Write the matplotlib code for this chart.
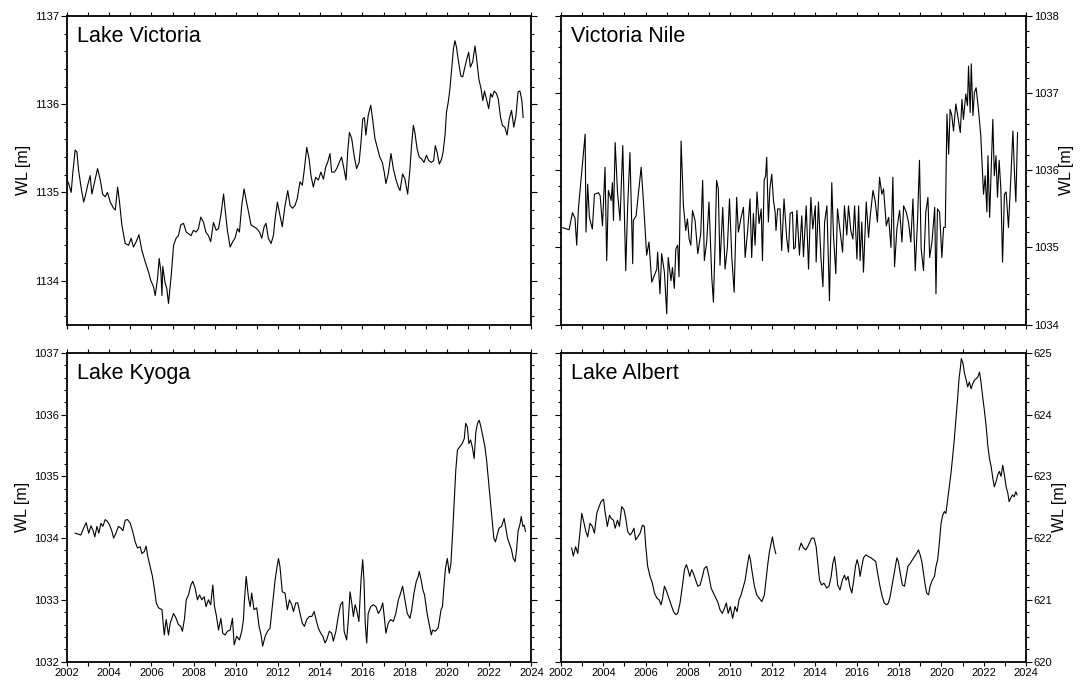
import numpy as np
import matplotlib
matplotlib.use("Agg")
import matplotlib.pyplot as plt
from matplotlib.ticker import MultipleLocator

plt.rcParams['font.family'] = ['Liberation Sans', 'DejaVu Sans']

# Lake Victoria water level (year, m)
vic_year = [2002.00, 2002.08, 2002.20, 2002.28, 2002.39, 2002.47, 2002.55, 2002.68, 2002.79, 2002.87,
            2002.98, 2003.10, 2003.18, 2003.31, 2003.45, 2003.58, 2003.69, 2003.81, 2003.92, 2004.05,
            2004.21, 2004.29, 2004.40, 2004.49, 2004.60, 2004.76, 2004.92, 2005.04, 2005.15, 2005.28,
            2005.41, 2005.55, 2005.71, 2005.86, 2005.97, 2006.10, 2006.18, 2006.29, 2006.37, 2006.45,
            2006.50, 2006.54, 2006.65, 2006.73, 2006.81, 2006.94, 2007.05, 2007.17, 2007.28, 2007.39,
            2007.52, 2007.65, 2007.76, 2007.88, 2007.99, 2008.12, 2008.23, 2008.34, 2008.47, 2008.58,
            2008.70, 2008.81, 2008.94, 2009.07, 2009.18, 2009.29, 2009.42, 2009.49, 2009.60, 2009.73,
            2009.85, 2009.96, 2010.08, 2010.17, 2010.28, 2010.39, 2010.49, 2010.60, 2010.72, 2010.86,
            2010.99, 2011.12, 2011.23, 2011.34, 2011.43, 2011.54, 2011.67, 2011.78, 2011.86, 2011.97,
            2012.09, 2012.20, 2012.33, 2012.46, 2012.57, 2012.69, 2012.80, 2012.91, 2013.04, 2013.15,
            2013.25, 2013.36, 2013.47, 2013.56, 2013.67, 2013.78, 2013.91, 2014.03, 2014.15, 2014.26,
            2014.35, 2014.46, 2014.54, 2014.67, 2014.78, 2014.90, 2015.01, 2015.12, 2015.22, 2015.30,
            2015.38, 2015.49, 2015.60, 2015.72, 2015.84, 2015.93, 2016.01, 2016.09, 2016.16, 2016.27,
            2016.39, 2016.48, 2016.59, 2016.70, 2016.82, 2016.94, 2017.03, 2017.11, 2017.22, 2017.35,
            2017.46, 2017.58, 2017.70, 2017.78, 2017.90, 2018.01, 2018.14, 2018.25, 2018.33, 2018.41,
            2018.48, 2018.59, 2018.69, 2018.80, 2018.91, 2019.03, 2019.14, 2019.26, 2019.37, 2019.45,
            2019.53, 2019.64, 2019.75, 2019.82, 2019.91, 2019.98, 2020.06, 2020.14, 2020.23, 2020.31,
            2020.38, 2020.45, 2020.55, 2020.66, 2020.75, 2020.83, 2020.94, 2021.03, 2021.11, 2021.22,
            2021.33, 2021.41, 2021.51, 2021.62, 2021.70, 2021.78, 2021.87, 2021.98, 2022.07, 2022.15,
            2022.24, 2022.35, 2022.43, 2022.54, 2022.63, 2022.74, 2022.85, 2022.95, 2023.06, 2023.17,
            2023.27, 2023.37, 2023.46, 2023.55, 2023.61]
vic_wl = [1135.14, 1135.10, 1135.00, 1135.23, 1135.48, 1135.46, 1135.25, 1135.04, 1134.89, 1134.96,
          1135.08, 1135.19, 1134.98, 1135.12, 1135.27, 1135.14, 1134.98, 1134.95, 1135.00, 1134.89,
          1134.82, 1134.80, 1135.06, 1134.89, 1134.63, 1134.42, 1134.40, 1134.48, 1134.38, 1134.44,
          1134.52, 1134.34, 1134.21, 1134.10, 1134.00, 1133.93, 1133.83, 1134.02, 1134.25, 1134.10,
          1133.83, 1134.16, 1133.97, 1133.91, 1133.74, 1134.06, 1134.40, 1134.48, 1134.51, 1134.63,
          1134.65, 1134.55, 1134.53, 1134.51, 1134.57, 1134.55, 1134.59, 1134.72, 1134.66, 1134.55,
          1134.51, 1134.44, 1134.66, 1134.57, 1134.59, 1134.74, 1134.98, 1134.81, 1134.57, 1134.38,
          1134.44, 1134.48, 1134.59, 1134.55, 1134.85, 1135.04, 1134.91, 1134.78, 1134.63, 1134.61,
          1134.59, 1134.55, 1134.48, 1134.61, 1134.65, 1134.48, 1134.42, 1134.51, 1134.70, 1134.89,
          1134.74, 1134.61, 1134.85, 1135.02, 1134.85, 1134.82, 1134.85, 1134.93, 1135.12, 1135.08,
          1135.27, 1135.51, 1135.38, 1135.19, 1135.06, 1135.17, 1135.14, 1135.23, 1135.15, 1135.29,
          1135.34, 1135.44, 1135.23, 1135.23, 1135.27, 1135.34, 1135.40, 1135.27, 1135.14, 1135.46,
          1135.68, 1135.61, 1135.42, 1135.27, 1135.34, 1135.57, 1135.83, 1135.85, 1135.65, 1135.87,
          1135.99, 1135.83, 1135.61, 1135.51, 1135.40, 1135.34, 1135.23, 1135.10, 1135.21, 1135.44,
          1135.27, 1135.15, 1135.06, 1135.02, 1135.21, 1135.15, 1134.98, 1135.27, 1135.55, 1135.76,
          1135.68, 1135.49, 1135.40, 1135.38, 1135.34, 1135.42, 1135.36, 1135.34, 1135.36, 1135.53,
          1135.46, 1135.32, 1135.38, 1135.46, 1135.65, 1135.91, 1136.02, 1136.17, 1136.42, 1136.63,
          1136.72, 1136.65, 1136.48, 1136.32, 1136.31, 1136.40, 1136.51, 1136.59, 1136.42, 1136.48,
          1136.66, 1136.51, 1136.29, 1136.17, 1136.04, 1136.15, 1136.06, 1135.95, 1136.12, 1136.08,
          1136.15, 1136.12, 1136.06, 1135.85, 1135.76, 1135.74, 1135.65, 1135.83, 1135.93, 1135.74,
          1135.87, 1136.14, 1136.15, 1136.04, 1135.85]

# Victoria Nile water level
nile_year = [2002.03, 2002.38, 2002.54, 2002.66, 2002.74, 2002.82, 2003.14, 2003.18, 2003.26, 2003.34,
             2003.48, 2003.58, 2003.77, 2003.85, 2003.96, 2004.08, 2004.16, 2004.24, 2004.37, 2004.43,
             2004.48, 2004.56, 2004.67, 2004.79, 2004.92, 2005.06, 2005.15, 2005.26, 2005.39, 2005.42,
             2005.55, 2005.79, 2005.90, 2006.05, 2006.16, 2006.29, 2006.53, 2006.57, 2006.68, 2006.76,
             2006.89, 2007.00, 2007.07, 2007.20, 2007.27, 2007.36, 2007.43, 2007.52, 2007.58, 2007.68,
             2007.79, 2007.90, 2007.98, 2008.06, 2008.14, 2008.22, 2008.34, 2008.47, 2008.61, 2008.70,
             2008.78, 2008.89, 2009.00, 2009.13, 2009.21, 2009.29, 2009.36, 2009.44, 2009.52, 2009.65,
             2009.76, 2009.87, 2009.97, 2010.08, 2010.19, 2010.31, 2010.39, 2010.52, 2010.63, 2010.71,
             2010.83, 2010.94, 2011.02, 2011.10, 2011.18, 2011.27, 2011.37, 2011.47, 2011.53, 2011.61,
             2011.68, 2011.73, 2011.81, 2011.88, 2011.97, 2012.05, 2012.13, 2012.17, 2012.25, 2012.36,
             2012.44, 2012.55, 2012.68, 2012.76, 2012.84, 2012.95, 2013.01, 2013.08, 2013.16, 2013.28,
             2013.39, 2013.47, 2013.60, 2013.71, 2013.82, 2013.91, 2014.03, 2014.07, 2014.18, 2014.29,
             2014.39, 2014.47, 2014.58, 2014.70, 2014.81, 2014.89, 2015.00, 2015.08, 2015.21, 2015.32,
             2015.41, 2015.52, 2015.60, 2015.71, 2015.81, 2015.89, 2016.00, 2016.08, 2016.15, 2016.23,
             2016.31, 2016.44, 2016.55, 2016.63, 2016.76, 2016.87, 2016.97, 2017.07, 2017.18, 2017.26,
             2017.39, 2017.50, 2017.61, 2017.70, 2017.78, 2017.89, 2018.02, 2018.13, 2018.21, 2018.33,
             2018.44, 2018.55, 2018.65, 2018.76, 2018.87, 2018.96, 2019.04, 2019.15, 2019.26, 2019.36,
             2019.44, 2019.55, 2019.68, 2019.74, 2019.81, 2019.91, 2020.02, 2020.10, 2020.18, 2020.26,
             2020.34, 2020.41, 2020.49, 2020.57, 2020.68, 2020.78, 2020.89, 2020.97, 2021.04, 2021.15,
             2021.23, 2021.28, 2021.36, 2021.41, 2021.49, 2021.56, 2021.64, 2021.75, 2021.86, 2021.99,
             2022.07, 2022.15, 2022.20, 2022.28, 2022.36, 2022.43, 2022.50, 2022.58, 2022.65, 2022.73,
             2022.81, 2022.89, 2022.98, 2023.06, 2023.17, 2023.28, 2023.38, 2023.46, 2023.52, 2023.60]
nile_wl = [1035.26, 1035.23, 1035.45, 1035.38, 1035.03, 1035.50, 1036.47, 1035.20, 1035.82, 1035.39,
           1035.24, 1035.69, 1035.71, 1035.67, 1035.28, 1036.04, 1034.83, 1035.74, 1035.61, 1035.84,
           1035.35, 1036.36, 1035.72, 1035.35, 1036.32, 1034.70, 1035.52, 1036.23, 1034.79, 1035.35,
           1035.41, 1036.04, 1035.59, 1034.90, 1035.07, 1034.55, 1034.72, 1034.94, 1034.40, 1034.92,
           1034.68, 1034.14, 1034.87, 1034.57, 1034.74, 1034.47, 1034.98, 1035.03, 1034.62, 1036.38,
           1035.54, 1035.22, 1035.37, 1035.11, 1035.03, 1035.48, 1035.35, 1034.92, 1035.18, 1035.87,
           1034.83, 1035.07, 1035.59, 1034.62, 1034.29, 1035.07, 1035.87, 1035.76, 1034.77, 1035.52,
           1034.72, 1035.00, 1035.63, 1034.87, 1034.42, 1035.65, 1035.20, 1035.39, 1035.52, 1034.87,
           1035.22, 1035.63, 1034.87, 1035.44, 1035.03, 1035.72, 1035.31, 1035.50, 1034.83, 1035.87,
           1035.93, 1036.17, 1035.33, 1035.76, 1035.95, 1035.61, 1035.46, 1035.22, 1035.50, 1035.50,
           1034.96, 1035.63, 1035.11, 1034.94, 1035.44, 1035.46, 1034.98, 1035.00, 1035.48, 1034.90,
           1035.41, 1034.88, 1035.54, 1034.72, 1035.65, 1035.24, 1035.54, 1034.81, 1035.59, 1034.90,
           1034.49, 1035.33, 1035.54, 1034.31, 1035.84, 1035.16, 1034.66, 1035.50, 1035.20, 1034.94,
           1035.54, 1035.16, 1035.54, 1035.22, 1035.11, 1035.54, 1034.85, 1035.54, 1034.83, 1035.33,
           1034.68, 1035.59, 1035.13, 1035.41, 1035.74, 1035.59, 1035.33, 1035.91, 1035.69, 1035.76,
           1035.28, 1035.39, 1035.00, 1035.91, 1034.75, 1035.24, 1035.48, 1035.07, 1035.54, 1035.46,
           1035.33, 1035.07, 1035.63, 1034.70, 1035.37, 1036.13, 1034.98, 1034.70, 1035.46, 1035.65,
           1034.87, 1035.07, 1035.52, 1034.40, 1035.50, 1035.46, 1034.87, 1035.26, 1035.26, 1036.73,
           1036.21, 1036.79, 1036.71, 1036.51, 1036.86, 1036.69, 1036.49, 1036.92, 1036.66, 1036.99,
           1036.84, 1037.35, 1036.75, 1037.38, 1036.71, 1037.01, 1037.07, 1036.79, 1036.45, 1035.69,
           1035.93, 1035.46, 1036.19, 1035.39, 1036.08, 1036.66, 1035.93, 1036.19, 1035.65, 1036.13,
           1035.76, 1034.81, 1035.69, 1035.72, 1035.26, 1035.89, 1036.51, 1035.93, 1035.59, 1036.49]

# Lake Kyoga water level
kyo_year = [2002.39, 2002.66, 2002.79, 2002.91, 2003.03, 2003.14, 2003.23, 2003.32, 2003.42, 2003.51,
            2003.61, 2003.70, 2003.81, 2003.92, 2004.02, 2004.13, 2004.21, 2004.32, 2004.44, 2004.56,
            2004.65, 2004.76, 2004.87, 2005.00, 2005.11, 2005.23, 2005.34, 2005.47, 2005.55, 2005.66,
            2005.75, 2005.83, 2005.94, 2006.05, 2006.15, 2006.23, 2006.34, 2006.50, 2006.61, 2006.70,
            2006.81, 2006.89, 2007.05, 2007.17, 2007.28, 2007.39, 2007.47, 2007.57, 2007.65, 2007.76,
            2007.87, 2007.96, 2008.07, 2008.18, 2008.28, 2008.39, 2008.50, 2008.59, 2008.70, 2008.81,
            2008.91, 2008.99, 2009.07, 2009.18, 2009.29, 2009.38, 2009.49, 2009.60, 2009.73, 2009.84,
            2009.92, 2010.04, 2010.17, 2010.28, 2010.36, 2010.41, 2010.49, 2010.60, 2010.68, 2010.75,
            2010.86, 2010.99, 2011.10, 2011.18, 2011.27, 2011.39, 2011.50, 2011.62, 2011.73, 2011.86,
            2011.94, 2012.02, 2012.09, 2012.20, 2012.33, 2012.44, 2012.54, 2012.65, 2012.73, 2012.84,
            2012.93, 2013.04, 2013.15, 2013.25, 2013.36, 2013.48, 2013.60, 2013.71, 2013.80, 2013.91,
            2014.02, 2014.12, 2014.23, 2014.30, 2014.43, 2014.54, 2014.62, 2014.74, 2014.85, 2014.96,
            2015.06, 2015.13, 2015.25, 2015.33, 2015.41, 2015.49, 2015.57, 2015.65, 2015.72, 2015.83,
            2015.93, 2016.01, 2016.07, 2016.13, 2016.20, 2016.27, 2016.39, 2016.51, 2016.64, 2016.75,
            2016.86, 2016.96, 2017.04, 2017.11, 2017.22, 2017.33, 2017.46, 2017.58, 2017.70, 2017.78,
            2017.90, 2018.01, 2018.12, 2018.25, 2018.33, 2018.44, 2018.55, 2018.64, 2018.69, 2018.78,
            2018.86, 2018.94, 2019.06, 2019.15, 2019.26, 2019.32, 2019.44, 2019.58, 2019.65, 2019.72,
            2019.79, 2019.86, 2019.93, 2020.02, 2020.11, 2020.19, 2020.27, 2020.34, 2020.42, 2020.50,
            2020.61, 2020.72, 2020.82, 2020.89, 2020.97, 2021.04, 2021.12, 2021.20, 2021.29, 2021.37,
            2021.45, 2021.53, 2021.61, 2021.69, 2021.80, 2021.88, 2021.98, 2022.07, 2022.15, 2022.22,
            2022.30, 2022.38, 2022.47, 2022.59, 2022.71, 2022.79, 2022.87, 2022.98, 2023.06, 2023.14,
            2023.23, 2023.30, 2023.37, 2023.47, 2023.52, 2023.60, 2023.66, 2023.72]
kyo_wl = [1034.08, 1034.05, 1034.16, 1034.25, 1034.08, 1034.20, 1034.13, 1034.02, 1034.19, 1034.08,
          1034.24, 1034.19, 1034.30, 1034.27, 1034.21, 1034.11, 1034.00, 1034.08, 1034.19, 1034.16,
          1034.12, 1034.29, 1034.30, 1034.24, 1034.11, 1033.94, 1033.84, 1033.86, 1033.75, 1033.78,
          1033.87, 1033.70, 1033.54, 1033.38, 1033.16, 1032.95, 1032.87, 1032.84, 1032.43, 1032.68,
          1032.43, 1032.62, 1032.78, 1032.70, 1032.60, 1032.57, 1032.49, 1032.70, 1033.00, 1033.08,
          1033.24, 1033.30, 1033.19, 1033.00, 1033.08, 1033.00, 1033.05, 1032.89, 1033.00, 1032.92,
          1033.24, 1032.89, 1032.76, 1032.51, 1032.70, 1032.46, 1032.43, 1032.49, 1032.51, 1032.70,
          1032.27, 1032.41, 1032.35, 1032.49, 1032.68, 1033.00, 1033.38, 1033.03, 1032.89, 1033.11,
          1032.84, 1032.87, 1032.57, 1032.46, 1032.25, 1032.41, 1032.49, 1032.54, 1032.89, 1033.32,
          1033.51, 1033.67, 1033.54, 1033.13, 1033.11, 1032.84, 1033.00, 1032.92, 1032.81, 1032.95,
          1032.95, 1032.78, 1032.62, 1032.57, 1032.68, 1032.73, 1032.73, 1032.81, 1032.68, 1032.54,
          1032.46, 1032.41, 1032.30, 1032.35, 1032.49, 1032.46, 1032.33, 1032.49, 1032.73, 1032.92,
          1032.97, 1032.49, 1032.35, 1032.68, 1033.13, 1032.95, 1032.73, 1032.92, 1032.84, 1032.65,
          1033.32, 1033.65, 1033.32, 1032.62, 1032.30, 1032.78, 1032.89, 1032.92, 1032.89, 1032.78,
          1032.84, 1032.95, 1032.70, 1032.46, 1032.62, 1032.68, 1032.65, 1032.78, 1033.00, 1033.08,
          1033.22, 1033.00, 1032.78, 1032.70, 1032.84, 1033.11, 1033.30, 1033.38, 1033.46, 1033.32,
          1033.16, 1033.08, 1032.78, 1032.62, 1032.43, 1032.51, 1032.49, 1032.54, 1032.68, 1032.84,
          1032.89, 1033.22, 1033.51, 1033.67, 1033.43, 1033.59, 1034.08, 1034.56, 1035.10, 1035.43,
          1035.48, 1035.53, 1035.61, 1035.86, 1035.80, 1035.53, 1035.59, 1035.48, 1035.29, 1035.72,
          1035.86, 1035.91, 1035.80, 1035.67, 1035.48, 1035.26, 1034.89, 1034.56, 1034.27, 1034.00,
          1033.94, 1034.05, 1034.16, 1034.19, 1034.32, 1034.16, 1034.00, 1033.89, 1033.81, 1033.67,
          1033.62, 1033.81, 1034.11, 1034.24, 1034.35, 1034.19, 1034.21, 1034.11]

# Lake Albert water level (gap in 2012-2013)
alb_year = [2002.50, 2002.58, 2002.69, 2002.79, 2002.90, 2002.98, 2003.07, 2003.17, 2003.26, 2003.37,
            2003.48, 2003.58, 2003.69, 2003.80, 2003.89, 2004.01, 2004.08, 2004.19, 2004.29, 2004.37,
            2004.48, 2004.56, 2004.67, 2004.76, 2004.87, 2004.98, 2005.06, 2005.15, 2005.26, 2005.34,
            2005.45, 2005.53, 2005.63, 2005.74, 2005.85, 2005.94, 2006.01, 2006.10, 2006.21, 2006.32,
            2006.42, 2006.53, 2006.64, 2006.73, 2006.79, 2006.89, 2006.97, 2007.08, 2007.21, 2007.32,
            2007.43, 2007.52, 2007.63, 2007.74, 2007.84, 2007.93, 2007.99, 2008.09, 2008.18, 2008.26,
            2008.34, 2008.47, 2008.58, 2008.69, 2008.78, 2008.89, 2009.00, 2009.10, 2009.21, 2009.32,
            2009.41, 2009.52, 2009.63, 2009.73, 2009.82, 2009.91, 2010.01, 2010.12, 2010.23, 2010.33,
            2010.42, 2010.52, 2010.63, 2010.71, 2010.82, 2010.90, 2010.96, 2011.05, 2011.15, 2011.26,
            2011.37, 2011.50, 2011.62, 2011.70, 2011.78, 2011.86, 2011.94, 2012.00, 2012.08, 2012.16,
            2012.70,
            2013.26, 2013.36, 2013.47, 2013.58, 2013.67, 2013.78, 2013.86, 2013.97, 2014.07, 2014.15,
            2014.23, 2014.33, 2014.44, 2014.57, 2014.68, 2014.78, 2014.86, 2014.94, 2015.02, 2015.09,
            2015.20, 2015.31, 2015.41, 2015.49, 2015.58, 2015.66, 2015.76, 2015.85, 2015.93, 2016.01,
            2016.09, 2016.15, 2016.23, 2016.31, 2016.42, 2016.55, 2016.67, 2016.78, 2016.89, 2016.98,
            2017.09, 2017.20, 2017.29, 2017.41, 2017.49, 2017.57, 2017.68, 2017.81, 2017.89, 2017.96,
            2018.05, 2018.15, 2018.25, 2018.33, 2018.41, 2018.52, 2018.63, 2018.72, 2018.82, 2018.91,
            2018.99, 2019.07, 2019.15, 2019.23, 2019.30, 2019.39, 2019.46, 2019.57, 2019.67, 2019.74,
            2019.82, 2019.90, 2019.98, 2020.06, 2020.14, 2020.21, 2020.29, 2020.37, 2020.45, 2020.53,
            2020.61, 2020.69, 2020.77, 2020.83, 2020.90, 2020.94, 2021.02, 2021.09, 2021.17, 2021.24,
            2021.32, 2021.40, 2021.48, 2021.56, 2021.64, 2021.72, 2021.80, 2021.87, 2021.95, 2022.03,
            2022.11, 2022.19, 2022.27, 2022.35, 2022.43, 2022.50, 2022.58, 2022.66, 2022.74, 2022.82,
            2022.90, 2022.98, 2023.06, 2023.14, 2023.20, 2023.28, 2023.36, 2023.44, 2023.52, 2023.58]
alb_wl = [621.84, 621.71, 621.86, 621.75, 622.11, 622.40, 622.27, 622.11, 622.02, 622.24,
          622.19, 622.08, 622.40, 622.51, 622.59, 622.63, 622.43, 622.19, 622.37, 622.32,
          622.29, 622.16, 622.29, 622.19, 622.51, 622.46, 622.32, 622.11, 622.05, 622.08,
          622.16, 621.97, 622.02, 622.08, 622.21, 622.19, 621.86, 621.54, 621.38, 621.27,
          621.11, 621.03, 621.00, 620.92, 621.00, 621.22, 621.16, 621.05, 620.92, 620.81,
          620.76, 620.78, 620.95, 621.22, 621.49, 621.57, 621.51, 621.38, 621.49, 621.43,
          621.35, 621.22, 621.24, 621.38, 621.51, 621.54, 621.38, 621.19, 621.11, 621.03,
          620.97, 620.84, 620.78, 620.86, 620.95, 620.78, 620.89, 620.70, 620.89, 620.81,
          621.00, 621.08, 621.22, 621.32, 621.57, 621.73, 621.65, 621.43, 621.22, 621.08,
          621.03, 620.97, 621.08, 621.32, 621.57, 621.78, 621.92, 622.02, 621.86, 621.75,
          np.nan,
          621.81, 621.92, 621.84, 621.81, 621.86, 621.94, 622.00, 622.00, 621.86, 621.59,
          621.32, 621.24, 621.27, 621.19, 621.22, 621.38, 621.59, 621.70, 621.49, 621.24,
          621.16, 621.32, 621.40, 621.32, 621.38, 621.22, 621.11, 621.32, 621.54, 621.65,
          621.54, 621.38, 621.54, 621.68, 621.73, 621.70, 621.68, 621.65, 621.62, 621.43,
          621.22, 621.05, 620.95, 620.92, 620.95, 621.05, 621.27, 621.54, 621.68, 621.62,
          621.43, 621.24, 621.22, 621.38, 621.54, 621.59, 621.65, 621.70, 621.75, 621.81,
          621.73, 621.62, 621.43, 621.24, 621.11, 621.08, 621.22, 621.32, 621.38, 621.54,
          621.65, 621.92, 622.24, 622.37, 622.43, 622.40, 622.62, 622.83, 623.05, 623.32,
          623.61, 623.94, 624.29, 624.58, 624.77, 624.91, 624.83, 624.67, 624.56, 624.45,
          624.53, 624.42, 624.50, 624.56, 624.58, 624.61, 624.69, 624.53, 624.29, 624.07,
          623.83, 623.51, 623.29, 623.16, 622.97, 622.83, 622.91, 623.02, 623.08, 623.00,
          623.18, 623.02, 622.83, 622.73, 622.59, 622.65, 622.70, 622.67, 622.75, 622.70]

fig = plt.figure(figsize=(10.8, 6.82), dpi=100)

# [left, bottom, width, height] in figure fraction
panels = [
    ("Lake Victoria", vic_year, vic_wl, (1133.5, 1137), [0.062, 0.524, 0.430, 0.4525], "left", False),
    ("Victoria Nile", nile_year, nile_wl, (1034, 1038), [0.5195, 0.524, 0.4305, 0.4525], "right", False),
    ("Lake Kyoga", kyo_year, kyo_wl, (1032, 1037), [0.062, 0.030, 0.430, 0.4525], "left", True),
    ("Lake Albert", alb_year, alb_wl, (620, 625), [0.5195, 0.030, 0.4305, 0.4525], "right", True),
]

for name, yr, wl, ylim, pos, side, xlab in panels:
    ax = fig.add_axes(pos)
    ax.plot(yr, wl, color='black', linewidth=0.8)
    ax.set_xlim(2002, 2024)
    ax.set_ylim(*ylim)
    ax.xaxis.set_major_locator(MultipleLocator(2))
    ax.xaxis.set_minor_locator(MultipleLocator(1))
    ax.yaxis.set_major_locator(MultipleLocator(1))
    ax.yaxis.set_minor_locator(MultipleLocator(0.2))
    for s in ax.spines.values():
        s.set_linewidth(1.3)
    ax.tick_params(axis='both', which='both', direction='out', width=0.8,
                   top=True, bottom=True, left=True, right=True,
                   labelsize=8, pad=1.5)
    ax.tick_params(axis='x', which='both', length=3, pad=2)
    ax.tick_params(axis='y', which='major', length=4)
    ax.tick_params(axis='y', which='minor', length=2)
    ax.tick_params(axis='x', labelbottom=xlab, labeltop=False)
    if side == "left":
        ax.tick_params(axis='y', labelleft=True, labelright=False)
        ax.set_ylabel('WL [m]', fontsize=11.5, labelpad=3)
    else:
        ax.tick_params(axis='y', labelleft=False, labelright=True)
        ax.yaxis.set_label_position('right')
        ax.set_ylabel('WL [m]', fontsize=11.5, labelpad=0)
    ax.text(0.022, 0.916, name, transform=ax.transAxes, fontsize=15.5,
            ha='left', va='baseline')

plt.savefig('out.png', dpi=100)
